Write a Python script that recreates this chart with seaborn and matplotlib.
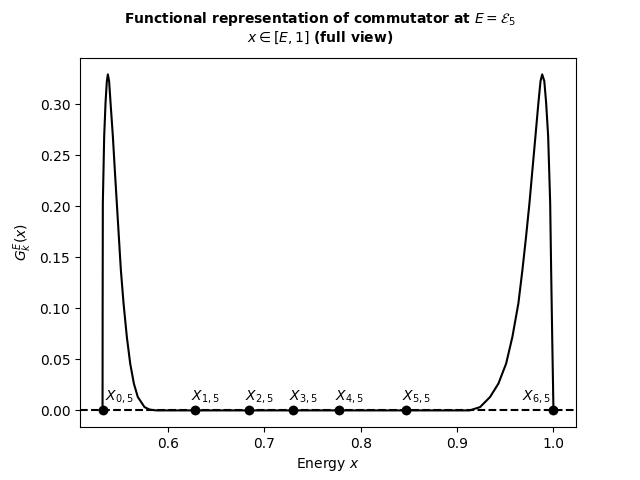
import matplotlib
matplotlib.use('Agg')
import matplotlib.pyplot as plt
import seaborn as sns

# curve (x in [E, 1])
x_curve = [0.5322, 0.5323, 0.5325, 0.5339, 0.5353, 0.5366, 0.5377, 0.5390, 0.5405,
           0.5429, 0.5449, 0.5470, 0.5491, 0.5512, 0.5540, 0.5574, 0.5609, 0.5647,
           0.5688, 0.5758, 0.5810, 0.5880, 0.9130, 0.9238, 0.9342, 0.9429, 0.9509,
           0.9574, 0.9636, 0.9678, 0.9716, 0.9751, 0.9782, 0.9813, 0.9844, 0.9866,
           0.9883, 0.9905, 0.9924, 0.9945, 0.9966, 0.9976, 0.9987, 1.0000]
g_curve = [0.000, 0.100, 0.2033, 0.2688, 0.3017, 0.322, 0.3295, 0.323, 0.3017,
           0.2688, 0.2361, 0.2033, 0.1705, 0.1377, 0.1049, 0.0721, 0.0459, 0.0263,
           0.0131, 0.0032, 0.0008, 0.000, 0.000, 0.0032, 0.0131, 0.0263, 0.0459,
           0.0721, 0.1049, 0.1377, 0.1705, 0.2033, 0.2361, 0.2688, 0.3017, 0.323,
           0.3295, 0.323, 0.3017, 0.2688, 0.2033, 0.1377, 0.0721, 0.000]

# nodes X_{i,5}
x_nodes = [0.5322, 0.628, 0.684, 0.7298, 0.7776, 0.8471, 1.0]
node_labels = [r'$X_{%d,5}$' % i for i in range(7)]

fig, ax = plt.subplots(figsize=(6.4, 4.8), dpi=100)

sns.lineplot(x=x_curve, y=g_curve, color='black', lw=1.5, estimator=None, sort=False, ax=ax)
ax.axhline(0, color='black', ls='--', lw=1.5)
sns.scatterplot(x=x_nodes, y=[0] * len(x_nodes), color='black', s=50, linewidth=0, zorder=3, ax=ax)

for i, (xn, lab) in enumerate(zip(x_nodes, node_labels)):
    if i == 0:
        ax.annotate(lab, (xn, 0), xytext=(2, 4), textcoords='offset points', ha='left', va='bottom')
    elif i == len(x_nodes) - 1:
        ax.annotate(lab, (xn, 0), xytext=(-2, 4), textcoords='offset points', ha='right', va='bottom')
    else:
        ax.annotate(lab, (xn, 0), xytext=(-3, 4), textcoords='offset points', ha='left', va='bottom')

ax.set_xlabel(r'Energy $x$')
ax.set_ylabel(r'$G_k^E(x)$')
fig.suptitle('Functional representation of commutator at $E = \\mathcal{E}_5$\n$x \\in [E, 1]$ (full view)',
             fontsize=10, fontweight='bold')

fig.savefig('out.png', dpi=100)
